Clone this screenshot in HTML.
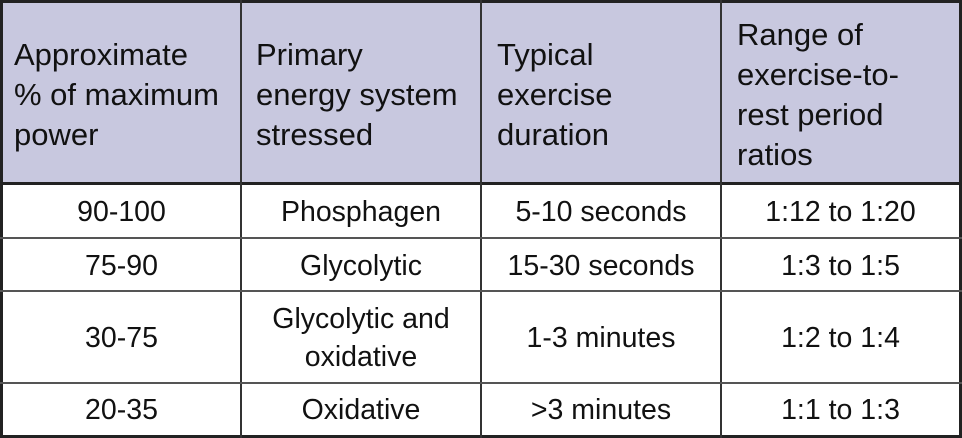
<!DOCTYPE html>
<html><head><meta charset="utf-8"><style>
body{margin:0;width:962px;height:438px;overflow:hidden;background:#fff;font-family:"Liberation Sans",sans-serif;color:#111}
.a{position:absolute}
.h{position:absolute;font-size:31px;line-height:40px;white-space:nowrap}
.c{position:absolute;font-size:28.5px;line-height:38px;text-align:center;white-space:nowrap}
</style></head><body>
<div class="a" style="left:0;top:0;width:962px;height:438px">
<div class="a" style="left:0;top:0;width:962px;height:184px;background:#c8c8df"></div>
<div class="a" style="left:0;top:0;width:962px;height:3px;background:#222"></div>
<div class="a" style="left:0;top:0;width:3px;height:438px;background:#222"></div>
<div class="a" style="left:959px;top:0;width:3px;height:438px;background:#222"></div>
<div class="a" style="left:0;top:435px;width:962px;height:3px;background:#222"></div>
<div class="a" style="left:0;top:182px;width:962px;height:3px;background:#222"></div>
<div class="a" style="left:240px;top:0;width:2px;height:438px;background:#333"></div>
<div class="a" style="left:480px;top:0;width:2px;height:438px;background:#333"></div>
<div class="a" style="left:720px;top:0;width:2px;height:438px;background:#333"></div>
<div class="a" style="left:0;top:237px;width:962px;height:2px;background:#555"></div>
<div class="a" style="left:0;top:290px;width:962px;height:2px;background:#555"></div>
<div class="a" style="left:0;top:382px;width:962px;height:2px;background:#555"></div>

<div class="h" style="left:14px;top:35px">Approximate<br>% of maximum<br>power</div>
<div class="h" style="left:256px;top:35px">Primary<br>energy system<br>stressed</div>
<div class="h" style="left:497px;top:35px">Typical<br>exercise<br>duration</div>
<div class="h" style="left:737px;top:15px">Range of<br>exercise-to-<br>rest period<br>ratios</div>

<div class="c" style="left:3px;width:237px;top:193px">90-100</div>
<div class="c" style="left:242px;width:238px;top:193px">Phosphagen</div>
<div class="c" style="left:482px;width:238px;top:193px">5-10 seconds</div>
<div class="c" style="left:722px;width:237px;top:193px">1:12 to 1:20</div>

<div class="c" style="left:3px;width:237px;top:247px">75-90</div>
<div class="c" style="left:242px;width:238px;top:247px">Glycolytic</div>
<div class="c" style="left:482px;width:238px;top:247px">15-30 seconds</div>
<div class="c" style="left:722px;width:237px;top:247px">1:3 to 1:5</div>

<div class="c" style="left:3px;width:237px;top:319px">30-75</div>
<div class="c" style="left:242px;width:238px;top:300px">Glycolytic and<br>oxidative</div>
<div class="c" style="left:482px;width:238px;top:319px">1-3 minutes</div>
<div class="c" style="left:722px;width:237px;top:319px">1:2 to 1:4</div>

<div class="c" style="left:3px;width:237px;top:391px">20-35</div>
<div class="c" style="left:242px;width:238px;top:391px">Oxidative</div>
<div class="c" style="left:482px;width:238px;top:391px">&gt;3 minutes</div>
<div class="c" style="left:722px;width:237px;top:391px">1:1 to 1:3</div>
</div>
</body></html>
